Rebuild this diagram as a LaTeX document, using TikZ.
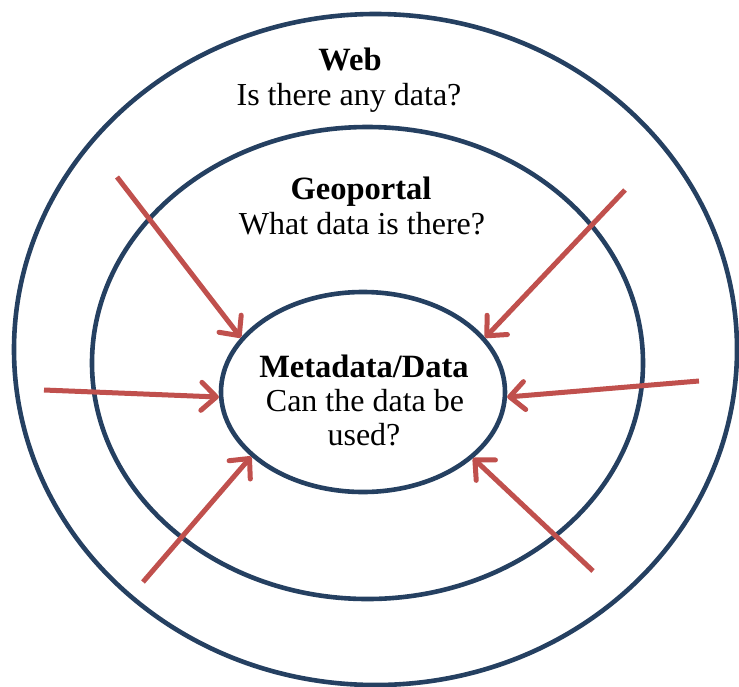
\documentclass[tikz,border=0pt]{standalone}
\usepackage{fontspec}
\setmainfont{Liberation Serif}
\usetikzlibrary{shapes.geometric,arrows.meta}
\definecolor{ringblue}{RGB}{37,64,97}
\definecolor{arrowred}{RGB}{192,80,77}
\tikzset{
  ring/.style={ellipse, draw=ringblue, line width=4.6pt, inner sep=0pt},
  inarrow/.style={draw=arrowred, line width=5pt,
    -{Straight Barb[length=15pt,width=28pt,round]}},
  title/.style={font=\fontsize{32.5}{35}\selectfont\bfseries, anchor=base, inner sep=0pt},
  question/.style={font=\fontsize{32}{35}\selectfont, anchor=base, inner sep=0pt}
}
\begin{document}
\begin{tikzpicture}[x=1pt,y=-1pt]
\useasboundingbox (0,0) rectangle (739,686);
\node[ring, minimum width=723pt, minimum height=671pt] (outer) at (375.5,349.5) {};
\node[ring, minimum width=551pt, minimum height=472pt] (middle) at (367.5,363) {};
\node[ring, minimum width=284pt, minimum height=200pt] (inner) at (363,392) {};

\node[title] (webt) at (350,70) {Web};
\node[question] (webq) at (349,105) {Is there any data?};
\node[title] (geot) at (361,199) {Geoportal};
\node[question] (geoq) at (362,234) {What data is there?};
\node[title] (metat) at (364,377) {Metadata/Data};
\node[question] (metaq1) at (365,411) {Can the data be};
\node[question] (metaq2) at (364,445) {used?};

\coordinate (a1) at (117,177);
\coordinate (a2) at (44,390);
\coordinate (a3) at (625,190);
\coordinate (a4) at (699,381);
\coordinate (a5) at (143,582);
\coordinate (a6) at (593,571);

\draw[inarrow] (a1) -- (inner.156);
\draw[inarrow] (a2) -- (inner.182);
\draw[inarrow] (a3) -- (inner.24.6);
\draw[inarrow] (a4) -- (inner.358.4);
\draw[inarrow] (a5) -- (inner.210.3);
\draw[inarrow] (a6) -- (inner.329.4);
\end{tikzpicture}
\end{document}
